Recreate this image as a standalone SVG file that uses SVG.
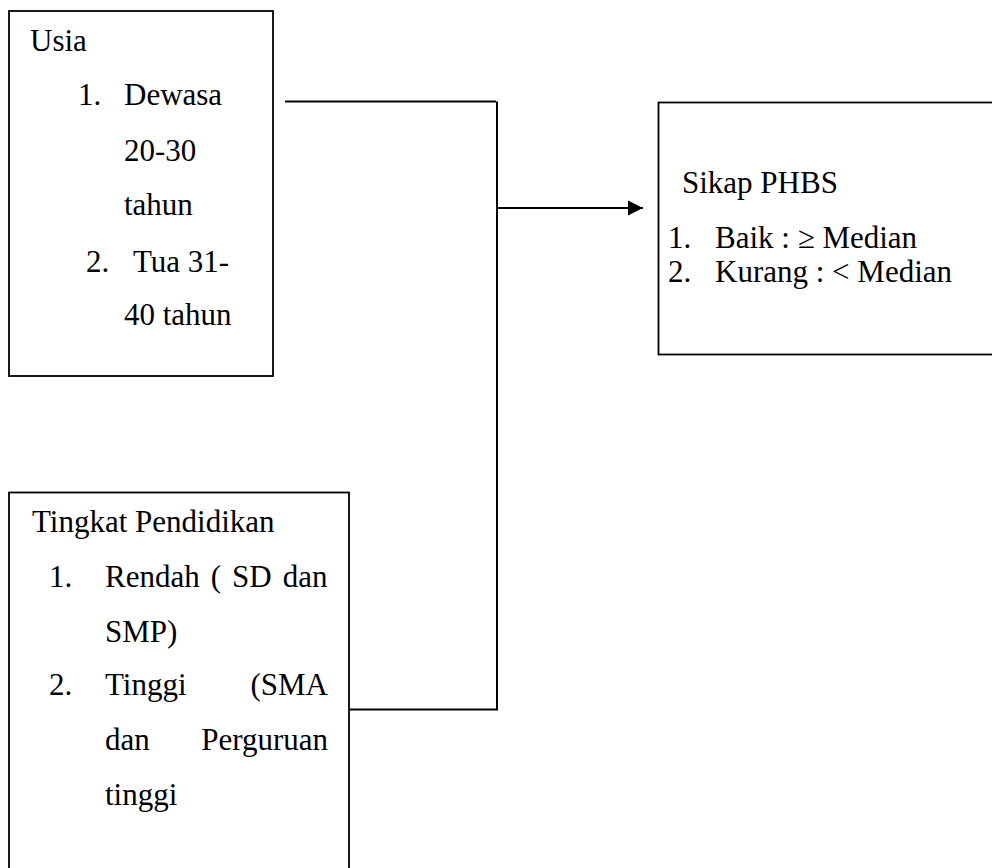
<svg xmlns="http://www.w3.org/2000/svg" width="992" height="868" viewBox="0 0 992 868">
<defs>
<style>
.box{fill:#fff;stroke:#000;stroke-width:1.8}
.t{font-family:"Liberation Serif","Times New Roman",serif;font-size:31px;fill:#000}
.c{fill:none;stroke:#000;stroke-width:2}
</style>
<marker id="arr" markerWidth="16" markerHeight="16" refX="15" refY="8" orient="auto" markerUnits="userSpaceOnUse">
<path d="M0,0.5 L15,8 L0,15.5 Z" fill="#000"/>
</marker>
</defs>
<rect width="992" height="868" fill="#fff"/>
<g id="connectors">
<path class="c" d="M285,101.5 H496"/>
<path class="c" d="M497,101.5 V709.5"/>
<path class="c" d="M349,709.5 H498"/>
<path class="c" d="M497,208 H643" marker-end="url(#arr)"/>
</g>
<g id="usia">
<rect class="box" x="9" y="11" width="264" height="365"/>
<text class="t" x="30" y="51">Usia</text>
<text class="t" x="78" y="105">1.</text>
<text class="t" x="124" y="105">Dewasa</text>
<text class="t" x="124" y="161">20-30</text>
<text class="t" x="124" y="215">tahun</text>
<text class="t" x="86" y="272">2.</text>
<text class="t" x="133" y="272">Tua 31-</text>
<text class="t" x="124" y="325">40 tahun</text>
</g>
<g id="pendidikan">
<rect class="box" x="9" y="492.5" width="340" height="400"/>
<text class="t" x="32" y="532">Tingkat Pendidikan</text>
<text class="t" x="49" y="587">1.</text>
<text class="t" x="105" y="587" word-spacing="3.3">Rendah ( SD dan</text>
<text class="t" x="105" y="642">SMP)</text>
<text class="t" x="49" y="695">2.</text>
<text class="t" x="105" y="695">Tinggi</text>
<text class="t" x="328" y="695" text-anchor="end">(SMA</text>
<text class="t" x="105" y="750">dan</text>
<text class="t" x="328" y="750" text-anchor="end">Perguruan</text>
<text class="t" x="105" y="805">tinggi</text>
</g>
<g id="sikap">
<rect class="box" x="658.5" y="102.5" width="400" height="252"/>
<text class="t" x="682" y="193">Sikap PHBS</text>
<text class="t" x="668" y="248">1.</text>
<text class="t" x="715" y="248">Baik : ≥ Median</text>
<text class="t" x="668" y="282">2.</text>
<text class="t" x="715" y="282">Kurang : &lt; Median</text>
</g>
</svg>
